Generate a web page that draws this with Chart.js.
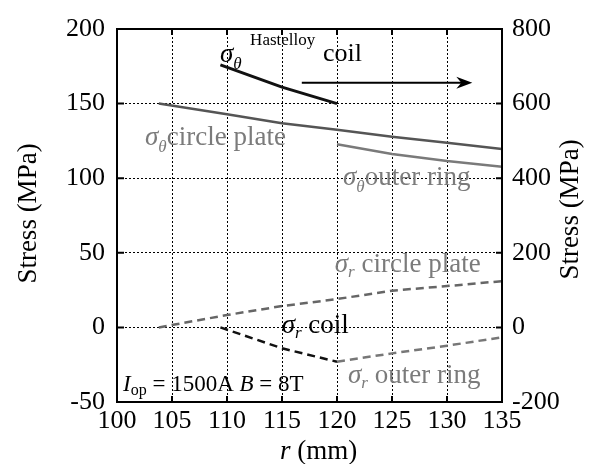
<!DOCTYPE html>
<html><head><meta charset="utf-8">
<script src="https://cdn.jsdelivr.net/npm/chart.js@4/dist/chart.umd.min.js"></script>
<style>html,body{margin:0;padding:0;background:#fff}</style>
</head><body>
<canvas id="c" width="591" height="464"></canvas>
<script>
// ---- data ----
const rCoil = [109.4, 115, 120];
const sThetaCoil = [176, 161, 150];
const sRCoil = [0, -14, -23];

const rPlate = [103.8, 110, 115, 120, 125, 130, 135];
const sThetaPlate = [150, 142.8, 136.8, 132.5, 127.8, 123.8, 119.6];
const sRPlate = [0, 8.3, 14.3, 19, 24.6, 27.7, 31];

const rRing = [120, 125, 130, 135];
const sThetaRing = [122.7, 116.2, 111.5, 107.7];
const sRRing = [-23, -17.4, -12.3, -6.6];

const xTickVals = [100, 105, 110, 115, 120, 125, 130, 135];
const yLeftTicks = [-50, 0, 50, 100, 150, 200];
const yRightTicks = [-200, 0, 200, 400, 600, 800];

const FONT = "'Liberation Serif', 'Times New Roman', serif";
const GRAY = '#7b7b7b';
const ANN = 27;

function pts(xs, ys) { return xs.map((x, i) => ({x: x, y: ys[i]})); }

// annotation text (anchored in data coordinates)
const notes = [
  {r: 112.1, s: 189.3, c: '#000', segs: [{t: 'Hastelloy', size: 17}]},
  {r: 109.36, s: 177.9, c: '#000', segs: [{t: 'σ', i: 1}, {t: 'θ', i: 1, size: 17, dy: 7}]},
  {r: 118.73, s: 178.6, c: '#000', segs: [{t: 'coil', size: 26}]},
  {r: 102.55, s: 122.3, c: GRAY, segs: [{t: 'σ', i: 1}, {t: 'θ', i: 1, size: 17, dy: 7}, {t: 'circle plate'}]},
  {r: 120.55, s: 95.4, c: GRAY, segs: [{t: 'σ', i: 1}, {t: 'θ', i: 1, size: 17, dy: 7}, {t: 'outer ring'}]},
  {r: 119.8, s: 37.3, c: GRAY, segs: [{t: 'σ', i: 1}, {t: 'r', i: 1, size: 17, dy: 5}, {t: ' circle plate'}]},
  {r: 114.97, s: -3.8, c: '#000', segs: [{t: 'σ', i: 1}, {t: 'r', i: 1, size: 17, dy: 5}, {t: ' coil'}]},
  {r: 121, s: -37, c: GRAY, segs: [{t: 'σ', i: 1}, {t: 'r', i: 1, size: 17, dy: 5}, {t: ' outer ring'}]},
  {r: 100.55, s: -42.6, c: '#000', segs: [{t: 'I', i: 1, size: 23}, {t: 'op', size: 16, dy: 4}, {t: ' = 1500A ', size: 23}, {t: 'B', i: 1, size: 23}, {t: ' = 8T', size: 23}]}
];
const arrow = {r0: 116.8, r1: 132.3, s: 164};

function fontOf(s) { return (s.i ? 'italic ' : '') + (s.size || ANN) + 'px ' + FONT; }
function drawRich(ctx, x, y, segs, color, align) {
  let w = 0;
  segs.forEach(s => { ctx.font = fontOf(s); w += ctx.measureText(s.t).width; });
  let cx = align === 'center' ? x - w / 2 : x;
  segs.forEach(s => {
    ctx.font = fontOf(s);
    ctx.fillStyle = s.c || color;
    ctx.fillText(s.t, cx, y + (s.dy || 0));
    cx += ctx.measureText(s.t).width;
  });
}

const decor = {
  id: 'decor',
  afterDatasetsDraw(chart) {
    const ctx = chart.ctx, a = chart.chartArea;
    const xs = chart.scales.x, ys = chart.scales.y, y2 = chart.scales.y2;
    ctx.save();
    // frame
    ctx.strokeStyle = '#000'; ctx.lineWidth = 2;
    ctx.strokeRect(a.left, a.top, a.right - a.left, a.bottom - a.top);
    // inward ticks
    ctx.lineWidth = 2;
    ctx.beginPath();
    xTickVals.forEach(v => { const p = xs.getPixelForValue(v); ctx.moveTo(p, a.bottom); ctx.lineTo(p, a.bottom - 6); ctx.moveTo(p, a.top); ctx.lineTo(p, a.top + 6); });
    yLeftTicks.forEach(v => { const p = ys.getPixelForValue(v); ctx.moveTo(a.left, p); ctx.lineTo(a.left + 7, p); });
    yRightTicks.forEach(v => { const p = y2.getPixelForValue(v); ctx.moveTo(a.right, p); ctx.lineTo(a.right - 6, p); });
    ctx.stroke();
    // annotations
    ctx.textBaseline = 'alphabetic';
    ctx.textAlign = 'left';
    notes.forEach(n => drawRich(ctx, xs.getPixelForValue(n.r), ys.getPixelForValue(n.s), n.segs, n.c));
    // arrow
    const ax0 = xs.getPixelForValue(arrow.r0), ax1 = xs.getPixelForValue(arrow.r1), ay = ys.getPixelForValue(arrow.s);
    ctx.strokeStyle = '#000'; ctx.lineWidth = 2;
    ctx.beginPath(); ctx.moveTo(ax0, ay); ctx.lineTo(ax1 - 6, ay); ctx.stroke();
    ctx.fillStyle = '#000';
    ctx.beginPath(); ctx.moveTo(ax1, ay); ctx.lineTo(ax1 - 16, ay - 6); ctx.lineTo(ax1 - 11, ay); ctx.lineTo(ax1 - 16, ay + 6); ctx.closePath(); ctx.fill();
    // axis titles
    ctx.fillStyle = '#000';
    ctx.textBaseline = 'middle';
    ctx.save(); ctx.translate(29, (a.top + a.bottom) / 2 - 2); ctx.rotate(-Math.PI / 2);
    drawRich(ctx, 0, 0, [{t: 'Stress (MPa)', size: 27}], '#000', 'center'); ctx.restore();
    ctx.save(); ctx.translate(571, (a.top + a.bottom) / 2 - 6); ctx.rotate(-Math.PI / 2);
    drawRich(ctx, 0, 0, [{t: 'Stress (MPa)', size: 27}], '#000', 'center'); ctx.restore();
    drawRich(ctx, (a.left + a.right) / 2 + 9, 452, [{t: 'r', i: 1, size: 27}, {t: ' (mm)', size: 27}], '#000', 'center');
    ctx.restore();
  }
};

const tickFont = {family: FONT, size: 26};
new Chart(document.getElementById('c'), {
  type: 'scatter',
  data: {
    datasets: [
      {data: pts(rPlate, sThetaPlate), showLine: true, borderColor: '#555555', borderWidth: 2.5, pointRadius: 0},
      {data: pts(rRing, sThetaRing), showLine: true, borderColor: '#7a7a7a', borderWidth: 2.5, pointRadius: 0},
      {data: pts(rCoil, sThetaCoil), showLine: true, borderColor: '#111111', borderWidth: 3, pointRadius: 0},
      {data: pts(rPlate, sRPlate), showLine: true, borderColor: '#666666', borderWidth: 2.5, borderDash: [8, 5], pointRadius: 0},
      {data: pts(rRing, sRRing), showLine: true, borderColor: '#777777', borderWidth: 2.5, borderDash: [8, 5], pointRadius: 0},
      {data: pts(rCoil, sRCoil), showLine: true, borderColor: '#111111', borderWidth: 2.5, borderDash: [8, 5], pointRadius: 0}
    ]
  },
  options: {
    responsive: false, devicePixelRatio: 1, animation: false,
    layout: {padding: {top: 29, left: 0, right: 0, bottom: 0}},
    plugins: {legend: {display: false}, tooltip: {enabled: false}},
    scales: {
      x: {
        type: 'linear', min: 100, max: 135,
        afterBuildTicks: s => { s.ticks = xTickVals.map(v => ({value: v})); },
        afterFit: s => { s.height = 62; },
        ticks: {font: tickFont, color: '#000', padding: 4, maxRotation: 0},
        grid: {color: '#000', lineWidth: 1, drawTicks: false},
        border: {display: false, dash: [2, 2]}
      },
      y: {
        type: 'linear', position: 'left', min: -50, max: 200,
        afterBuildTicks: s => { s.ticks = yLeftTicks.map(v => ({value: v})); },
        afterFit: s => { s.width = 117; },
        ticks: {font: tickFont, color: '#000', padding: 12},
        grid: {color: '#000', lineWidth: 1, drawTicks: false},
        border: {display: false, dash: [2, 2]}
      },
      y2: {
        type: 'linear', position: 'right', min: -200, max: 800,
        afterBuildTicks: s => { s.ticks = yRightTicks.map(v => ({value: v})); },
        afterFit: s => { s.width = 89; },
        ticks: {font: tickFont, color: '#000', padding: 10},
        grid: {display: false, drawTicks: false},
        border: {display: false}
      }
    }
  },
  plugins: [decor]
});
</script>
</body></html>
